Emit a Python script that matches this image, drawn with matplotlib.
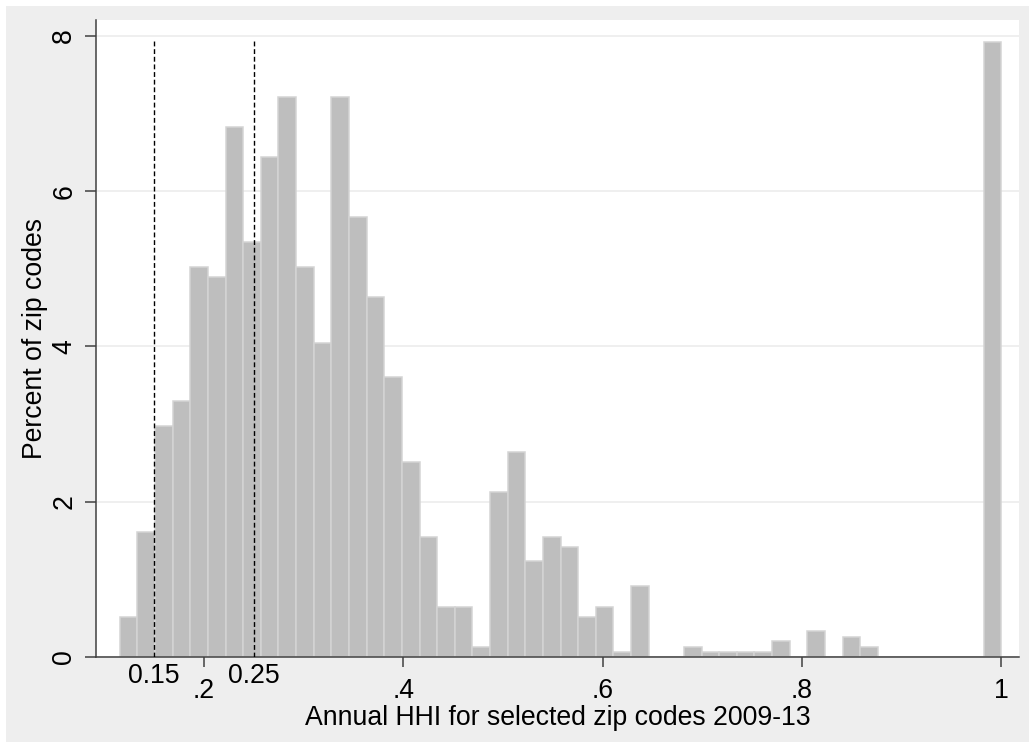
import matplotlib
matplotlib.use('Agg')
import matplotlib.pyplot as plt
from matplotlib.patches import Rectangle
import numpy as np

plt.rcParams['font.family'] = ['Liberation Sans', 'DejaVu Sans']

# histogram: 50 bins from min to max of HHI
bin_start = 0.1155
bin_end   = 1.0
percent = [0.52, 1.61, 2.97, 3.30, 5.02, 4.89, 6.83, 5.34, 6.44, 7.21,
           5.02, 4.05, 7.21, 5.67, 4.64, 3.61, 2.51, 1.55, 0.65, 0.65,
           0.13, 2.13, 2.64, 1.24, 1.55, 1.42, 0.52, 0.65, 0.07, 0.91,
           0.00, 0.00, 0.13, 0.07, 0.07, 0.07, 0.07, 0.20, 0.00, 0.33,
           0.00, 0.26, 0.13, 0.00, 0.00, 0.00, 0.00, 0.00, 0.00, 7.92]
major_ticks  = [0.2, 0.4, 0.6, 0.8, 1.0]
major_labels = ['.2', '.4', '.6', '.8', '1']
cut_lines    = [0.15, 0.25]
cut_labels   = ['0.15', '0.25']
y_ticks      = [0, 2, 4, 6, 8]

edges = np.linspace(bin_start, bin_end, len(percent) + 1)
width = edges[1] - edges[0]

W, H = 1029, 742
fig = plt.figure(figsize=(W/100, H/100), dpi=100, facecolor='white')
fig.patches.append(Rectangle((6/W, 0), 1 - 6/W, 1 - 6/H, transform=fig.transFigure,
                             facecolor='#eeeeee', edgecolor='none', zorder=-10))

ax = fig.add_axes([96/W, 1 - 657/H, (1019-96)/W, (657-20)/H])
ax.set_facecolor('white')

ax.bar(edges[:-1], percent, width=width, align='edge', color='#bebebe',
       edgecolor='#d4d4d4', linewidth=1.1, zorder=2)

for c in cut_lines:
    ax.vlines(c, 0, 7.96, colors='black', linewidth=1.0,
              linestyles=(0, (3.5, 2)), zorder=3)

ax.set_xlim(0.0916, 1.0178)
ax.set_ylim(0, 8.206)

ax.set_yticks(y_ticks)
ax.set_yticklabels([str(v) for v in y_ticks], rotation=90, va='center')
ax.grid(axis='y', color='#ebebeb', linewidth=1.1, zorder=0)
ax.set_axisbelow(True)

ax.set_xticks(major_ticks)
ax.set_xticklabels(major_labels)
ax.set_xticks(cut_lines, minor=True)
ax.set_xticklabels(cut_labels, minor=True)

fs = 19.2
ax.tick_params(axis='x', which='major', length=7.5, width=1.1, color='#404040',
               pad=7.5, labelsize=fs)
ax.tick_params(axis='x', which='minor', length=0, pad=4, labelsize=fs)
ax.tick_params(axis='y', length=8, width=1.1, color='#404040', pad=5.5, labelsize=fs)

for s in ['top', 'right']:
    ax.spines[s].set_visible(False)
for s in ['left', 'bottom']:
    ax.spines[s].set_color('#404040')
    ax.spines[s].set_linewidth(1.1)

ax.set_xlabel('Annual HHI for selected zip codes 2009-13', fontsize=fs, labelpad=1)
ax.set_ylabel('Percent of zip codes', fontsize=fs, labelpad=2)

fig.savefig('out.png', dpi=100, facecolor=fig.get_facecolor())
